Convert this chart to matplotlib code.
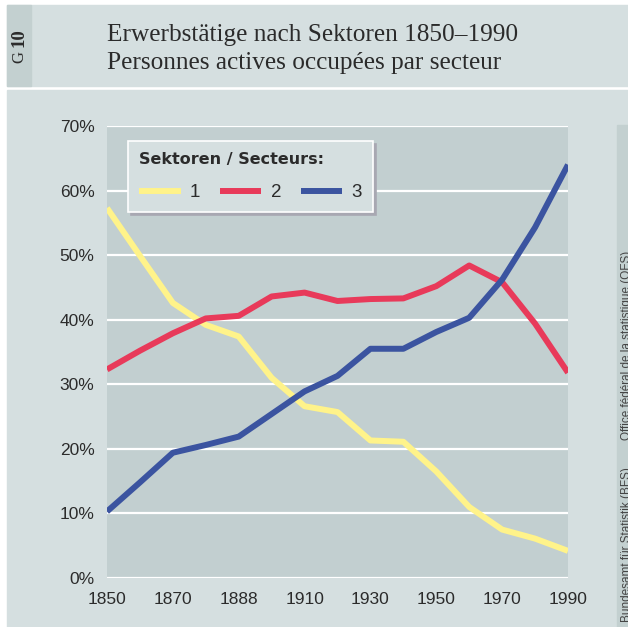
import numpy as np
import matplotlib.pyplot as plt
from matplotlib.patches import Rectangle

# Erwerbstaetige nach Sektoren, Anteil in %
years = [1850, 1860, 1870, 1880, 1888, 1900, 1910, 1920, 1930, 1941, 1950, 1960, 1970, 1980, 1990]
sektor1 = [57.3, 49.9, 42.6, 39.2, 37.4, 31.0, 26.6, 25.7, 21.3, 21.1, 16.5, 11.0, 7.5, 6.1, 4.2]
sektor2 = [32.3, 35.2, 37.9, 40.2, 40.6, 43.6, 44.2, 42.9, 43.2, 43.3, 45.2, 48.4, 45.8, 39.4, 31.8]
sektor3 = [10.3, 14.8, 19.4, 20.6, 21.9, 25.4, 28.9, 31.3, 35.5, 35.5, 38.1, 40.3, 46.2, 54.3, 64.0]
tick_years = ['1850', '1870', '1888', '1910', '1930', '1950', '1970', '1990']
yticks = [0, 10, 20, 30, 40, 50, 60, 70]

W, H = 628, 627
bg = '#d5dfe0'
dark = '#c3d0d0'
txt = '#2b2b2b'
sans = ['Liberation Sans', 'DejaVu Sans']

fig = plt.figure(figsize=(W/100, H/100), dpi=100)
fig.patch.set_facecolor('white')

def frect(x0, y0, x1, y1, color):
    # rectangle in pixel coords (y from top)
    fig.patches.append(Rectangle((x0/W, 1-y1/H), (x1-x0)/W, (y1-y0)/H,
                                 transform=fig.transFigure, color=color, zorder=-10))

# header
frect(7, 5, W, 86, bg)
frect(7, 5, 31, 86, dark)
# main panel
frect(7, 90, W, H, bg)
frect(617, 125, W, H, dark)

fig.text(19/W, 1-57/H, 'G', rotation=90, fontsize=12, family='Liberation Serif',
         color=txt, ha='center', va='center')
fig.text(19/W, 1-38/H, '10', rotation=90, fontsize=13.5, family='Liberation Serif',
         weight='bold', color=txt, ha='center', va='center')
fig.text(107/W, 1-35/H, 'Erwerbstätige nach Sektoren 1850–1990', fontsize=18.2,
         family='Liberation Serif', color=txt, ha='left', va='center')
fig.text(107/W, 1-63/H, 'Personnes actives occupées par secteur', fontsize=18.2,
         family='Liberation Serif', color=txt, ha='left', va='center')

# sources (cut at the right edge, as in the print)
fig.text(621/W, 1-622/H, 'Bundesamt für Statistik (BFS)', rotation=90, fontsize=8.5,
         family=sans, color='#444444', ha='left', va='bottom')
fig.text(621/W, 1-440/H, 'Office fédéral de la statistique (OFS)', rotation=90, fontsize=8.5,
         family=sans, color='#444444', ha='left', va='bottom')

ax = fig.add_axes([107/W, 1-578/H, 461/W, 452/H])
ax.set_facecolor('#c2cfd0')
x = np.arange(len(years))
ax.plot(x, sektor1, color='#fff38a', lw=4.3, label='1', solid_capstyle='butt', zorder=3)
ax.plot(x, sektor2, color='#e83a5a', lw=4.3, label='2', solid_capstyle='butt', zorder=3)
ax.plot(x, sektor3, color='#3b54a0', lw=4.3, label='3', solid_capstyle='butt', zorder=3)

ax.set_xlim(0, len(years)-1)
ax.set_ylim(0, 70)
ax.set_xticks(x[::2])
ax.set_xticklabels(tick_years)
ax.set_yticks(yticks)
ax.set_yticklabels([f'{v}%' for v in yticks])
ax.tick_params(length=0, labelsize=12.5, colors=txt)
ax.tick_params(axis='y', pad=9)
ax.tick_params(axis='x', pad=10)
for lab in ax.get_xticklabels() + ax.get_yticklabels():
    lab.set_family(sans)
for s in ax.spines.values():
    s.set_visible(False)
ax.yaxis.grid(True, color='white', lw=1.6)
ax.set_axisbelow(True)

leg = ax.legend(ncol=3, loc='upper left', bbox_to_anchor=(128/W, 1-141/H),
                bbox_transform=fig.transFigure, borderaxespad=0, frameon=True,
                fancybox=False, shadow={'color': '#a8a8b2', 'alpha': 1},
                title='Sektoren / Secteurs:', alignment='left',
                handlelength=2.2, handletextpad=0.5, columnspacing=1.05,
                borderpad=0.6, labelspacing=0.9,
                prop={'family': sans, 'size': 13.5})
leg.get_title().set_fontsize(11.5)
leg.get_title().set_weight('bold')
leg.get_title().set_color(txt)
for t in leg.get_texts():
    t.set_color(txt)
fr = leg.get_frame()
fr.set_facecolor(bg)
fr.set_edgecolor('white')
fr.set_linewidth(1.2)
fr.set_alpha(1)

fig.savefig('out.png', dpi=100, facecolor=fig.get_facecolor())
